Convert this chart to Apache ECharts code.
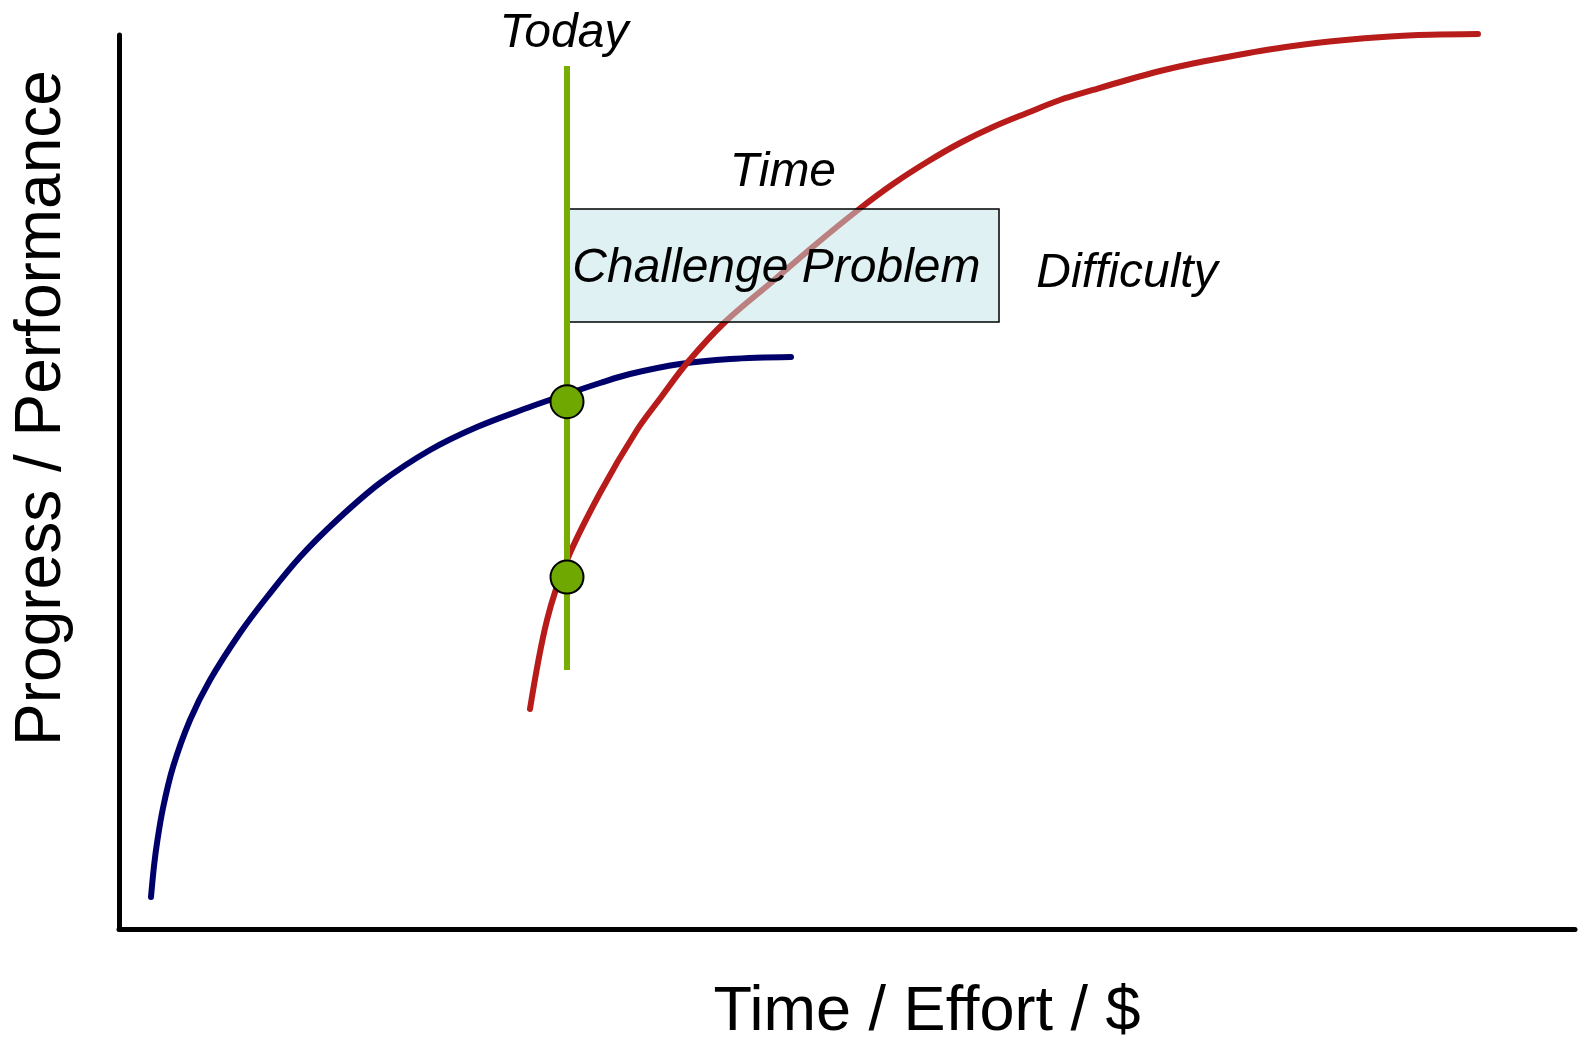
<!DOCTYPE html>
<html>
<head>
<meta charset="utf-8">
<title>Challenge Problem</title>
<script src="https://cdn.jsdelivr.net/npm/echarts@6/dist/echarts.min.js"></script>
<style>
  html, body { margin: 0; padding: 0; background: #fff; }
  #main { width: 1578px; height: 1042px; }
</style>
</head>
<body>
<div id="main"></div>
<script>
// current capability curve (blue)
var blueX = [2.198, 2.404, 2.610, 3.022, 3.709, 4.876, 6.250, 8.310, 10.165, 12.431, 14.973, 17.926, 21.360, 24.588, 28.022, 30.769, 33.036, 35.096, 38.530, 41.964, 46.154];
var blueY = [3.579, 7.047, 9.620, 13.535, 18.121, 23.378, 27.852, 33.110, 37.136, 41.611, 45.749, 49.888, 53.579, 56.152, 58.277, 59.843, 61.074, 62.081, 63.199, 63.758, 63.982];

// new approach curve (red)
var redX = [28.228, 29.396, 30.769, 33.036, 35.577, 37.294, 39.011, 41.621, 44.918, 47.802, 50.755, 53.159, 55.495, 57.761, 60.027, 62.363, 64.629, 66.896, 69.231, 71.497, 73.764, 76.099, 78.365, 80.632, 83.860, 87.294, 90.041, 93.338];
var redY = [24.609, 34.564, 41.275, 48.770, 55.817, 59.620, 63.311, 67.897, 72.483, 76.510, 80.425, 83.333, 85.794, 87.919, 89.709, 91.275, 92.729, 93.848, 94.966, 95.973, 96.812, 97.539, 98.210, 98.770, 99.385, 99.832, 100.022, 100.112];

// "Today" line and the two points on it
var todayX = 30.77;
var todayRange = [28.97, 96.53];
var todayPointsY = [58.98, 39.37];

// challenge problem box: [x0, x1, y0, y1]
var boxX = [30.70, 60.44];
var boxY = [67.90, 80.54];

// annotations
var noteText = ['Today', 'Time', 'Challenge Problem', 'Difficulty'];
var noteX = [30.56, 45.60, 45.15, 69.23];
var noteY = [100.2, 84.55, 73.85, 73.35];

var xTitle = 'Time / Effort / $';
var yTitle = 'Progress / Performance';

function zip(xs, ys) {
  return xs.map(function (x, i) { return [x, ys[i]]; });
}

var myChart = echarts.init(document.getElementById('main'));

var option = {
  animation: false,
  backgroundColor: '#ffffff',
  grid: { left: 119, right: 3, top: 35, bottom: 113 },
  xAxis: {
    type: 'value', min: 0, max: 100,
    axisLine: { show: true, lineStyle: { color: '#000', width: 5 } },
    axisTick: { show: false }, axisLabel: { show: false }, splitLine: { show: false }
  },
  yAxis: {
    type: 'value', min: 0, max: 100,
    axisLine: { show: true, lineStyle: { color: '#000', width: 5 } },
    axisTick: { show: false }, axisLabel: { show: false }, splitLine: { show: false }
  },
  graphic: [
    {
      type: 'text', x: 927, y: 1013,
      style: { text: xTitle, align: 'center', verticalAlign: 'middle',
        font: '63px "Liberation Sans", Arial, sans-serif', fill: '#000' }
    },
    {
      type: 'text', x: 42, y: 408, rotation: Math.PI / 2,
      style: { text: yTitle, align: 'center', verticalAlign: 'middle',
        font: '64px "Liberation Sans", Arial, sans-serif', fill: '#000' }
    }
  ],
  series: [
    {
      name: 'current', type: 'line', z: 2, clip: false,
      data: zip(blueX, blueY), showSymbol: false, smooth: 0.35,
      lineStyle: { color: '#00006b', width: 6, cap: 'round' }
    },
    {
      name: 'new', type: 'line', z: 2, clip: false,
      data: zip(redX, redY), showSymbol: false, smooth: 0.35,
      lineStyle: { color: '#b71c1a', width: 6, cap: 'round' }
    },
    {
      name: 'box', type: 'custom', z: 3, clip: false,
      data: [[boxX[0], boxY[0], boxX[1], boxY[1]]],
      renderItem: function (params, api) {
        var p0 = api.coord([api.value(0), api.value(3)]);
        var p1 = api.coord([api.value(2), api.value(1)]);
        return {
          type: 'rect',
          shape: { x: p0[0], y: p0[1], width: p1[0] - p0[0], height: p1[1] - p0[1] },
          style: { fill: 'rgba(191,227,229,0.5)', stroke: '#000', lineWidth: 1.5 }
        };
      }
    },
    {
      name: 'today', type: 'line', z: 4, clip: false,
      data: [[todayX, todayRange[0]], [todayX, todayRange[1]]],
      showSymbol: false,
      lineStyle: { color: '#76ad00', width: 6 }
    },
    {
      name: 'points', type: 'scatter', z: 5, clip: false,
      data: todayPointsY.map(function (y) { return [todayX, y]; }),
      symbolSize: 33,
      itemStyle: { color: '#6ea800', borderColor: '#000', borderWidth: 2, opacity: 1 }
    },
    {
      name: 'notes', type: 'scatter', z: 6, clip: false,
      data: noteText.map(function (t, i) { return { name: t, value: [noteX[i], noteY[i]] }; }),
      symbolSize: 1,
      itemStyle: { color: 'rgba(0,0,0,0)', opacity: 1 },
      label: {
        show: true, position: 'inside', formatter: '{b}',
        color: '#000', fontSize: 48, fontStyle: 'italic',
        fontFamily: '"Liberation Sans", Arial, sans-serif'
      }
    }
  ]
};

myChart.setOption(option);
</script>
</body>
</html>
